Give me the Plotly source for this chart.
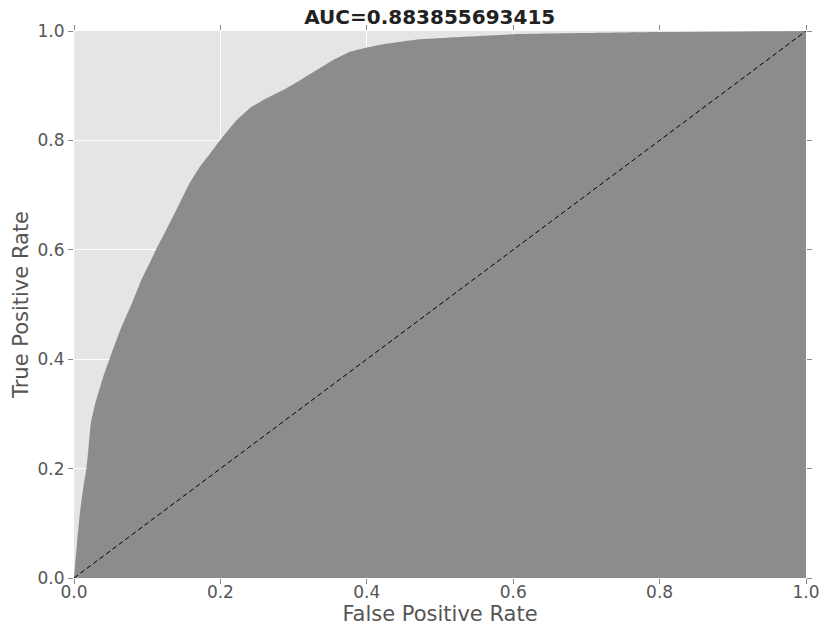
import plotly.graph_objects as go

# ROC curve points
fpr = [0.0, 0.0014, 0.0045, 0.008, 0.013, 0.017, 0.020, 0.023, 0.029, 0.040,
       0.049, 0.063, 0.079, 0.092, 0.103, 0.112, 0.126, 0.140, 0.158, 0.172,
       0.186, 0.200, 0.222, 0.240, 0.263, 0.286, 0.309, 0.332, 0.354, 0.377,
       0.400, 0.423, 0.473, 0.600, 0.800, 1.0]
tpr = [0.0, 0.021, 0.069, 0.118, 0.168, 0.200, 0.240, 0.283, 0.319, 0.368,
       0.402, 0.453, 0.502, 0.545, 0.575, 0.600, 0.636, 0.673, 0.722, 0.752,
       0.776, 0.801, 0.837, 0.859, 0.877, 0.892, 0.910, 0.929, 0.947, 0.962,
       0.970, 0.976, 0.985, 0.994, 0.998, 1.0]
auc = "0.883855693415"
ticks = [0.0, 0.2, 0.4, 0.6, 0.8, 1.0]

fig = go.Figure()
fig.add_trace(go.Scatter(x=fpr, y=tpr, mode="lines", fill="tozeroy",
                         fillcolor="rgba(128,128,128,0.88)",
                         line=dict(width=0, color="rgba(128,128,128,0.88)", shape="spline", smoothing=0.3),
                         showlegend=False, hoverinfo="skip"))
fig.add_trace(go.Scatter(x=[0, 1], y=[0, 1], mode="lines",
                         line=dict(color="black", width=1, dash="5px,3px"),
                         showlegend=False))

axis_common = dict(
    range=[0, 1], tickvals=ticks, tickformat=".1f", automargin=False,
    showgrid=True, gridcolor="white", gridwidth=1,
    zeroline=False, showline=False,
    ticks="outside", ticklen=5, tickcolor="#888888", mirror="ticks",
    tickfont=dict(family="DejaVu Sans", size=17, color="#555555"),
)

fig.update_xaxes(**axis_common, ticklabelstandoff=-6,
                 title=dict(text="False Positive Rate", standoff=0,
                            font=dict(family="DejaVu Sans", size=21, color="#555555")))
fig.update_yaxes(**axis_common,
                 title=dict(text="True Positive Rate", standoff=3,
                            font=dict(family="DejaVu Sans", size=21, color="#555555")))

fig.update_layout(
    width=830, height=639,
    margin=dict(l=74, r=24, t=31, b=61),
    plot_bgcolor="#E5E5E5", paper_bgcolor="white",
    title=dict(text="<b>AUC=" + auc + "</b>", x=0.486, xref="paper",
               y=1, yref="container", yanchor="top", pad=dict(t=10),
               font=dict(family="DejaVu Sans", size=20, color="#222222")),
)

# drop the page's default 8px body margin so the figure fills the window
fig.write_html("out.html", config={"displayModeBar": False},
               post_script="document.body.style.margin = '0px';")
